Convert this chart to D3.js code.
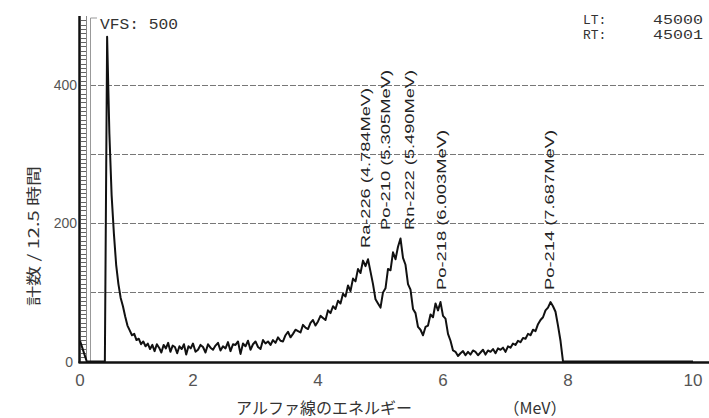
<!DOCTYPE html>
<html>
<head>
<meta charset="utf-8">
<script src="https://cdn.jsdelivr.net/npm/d3@7"></script>
<style>
  html, body { margin: 0; padding: 0; background: #fff; }
  svg { display: block; }
</style>
</head>
<body>
<svg id="chart" width="709" height="418"></svg>
<script>
// Alpha spectrum: counts per channel, channels every 0.04 MeV starting at 0 MeV
const channelStep = 0.04;
const counts = [
  30, 20, 10, 0, 0, 0, 0, 0, 0, 0, 0, 0,           // 0.00 - 0.44
  470, 330, 240, 185, 140, 112, 92, 80, 65, 52,    // 0.48 - 0.84
  45, 38, 40, 31, 33, 25, 29, 22, 26, 18, 24,      // 0.88 - 1.28
  15, 25, 20, 13, 24, 19, 27, 14, 23, 21, 12, 22,  // 1.32 - 1.76
  18, 25, 10, 22, 19, 26, 14, 17, 24, 21, 13, 25,  // 1.80 - 2.24
  20, 17, 23, 27, 16, 22, 19, 28, 15, 25, 24, 29,  // 2.28 - 2.72
  11, 26, 22, 30, 17, 25, 29, 21, 18, 31, 26, 29,  // 2.76 - 3.20
  24, 31, 27, 35, 30, 29, 38, 43, 35, 40, 46, 44,  // 3.24 - 3.68
  42, 53, 49, 47, 56, 60, 52, 58, 66, 63, 60, 74,  // 3.72 - 4.16
  70, 80, 76, 88, 84, 98, 94, 110, 102, 120, 116, 134, // 4.20 - 4.64
  128, 146, 138, 148, 130, 112, 90, 84, 78, 100, 106, 134, // 4.68 - 5.12
  132, 158, 148, 166, 178, 150, 140, 112, 104, 76, 70, 50, // 5.16 - 5.60
  46, 38, 50, 52, 68, 64, 84, 74, 86, 66, 62, 40,  // 5.64 - 6.08
  30, 16, 14, 8, 12, 15, 9, 14, 10, 16, 14, 9,     // 6.12 - 6.56
  13, 17, 10, 16, 14, 18, 12, 19, 17, 20, 14, 22,  // 6.60 - 7.04
  20, 26, 24, 30, 28, 34, 33, 40, 38, 46, 44, 54,  // 7.08 - 7.52
  60, 64, 74, 78, 86, 80, 72, 52, 30, 0,           // 7.56 - 7.92
  0, 0, 0, 0, 0, 0, 0, 0, 0, 0, 0, 0, 0, 0, 0, 0, 0, 0, 0, 0, 0, 0, 0, 0, 0, 0,
  0, 0, 0, 0, 0, 0, 0, 0, 0, 0, 0, 0, 0, 0, 0, 0, 0, 0, 0, 0, 0, 0, 0, 0, 0, 0
];

// Peak identification labels
const peakNuclides = ["Ra-226", "Po-210", "Rn-222", "Po-218", "Po-214"];
const peakEnergies = [4.784, 5.305, 5.490, 6.003, 7.687];

// Axis ticks
const xTicks = [0, 2, 4, 6, 8, 10];
const yTicks = [0, 200, 400];
const gridValues = [100, 200, 300, 400];

// Header readouts
const vfsValue = 500;
const liveTime = 45000;
const realTime = 45001;

const svg = d3.select("#chart");
const axisX = 80, baseY = 362;

// Energy calibration of the display is slightly compressed below 2 MeV
const x = d3.scaleLinear().domain([0, 2, 10]).range([axisX, 193, 693]);
const y = d3.scaleLinear().domain([0, 500]).range([baseY - 0.5, 16]);

const grey = "#555";
const tickFont = "'Liberation Sans', Arial, sans-serif";
const monoFont = "'Liberation Mono', 'DejaVu Sans Mono', monospace";

// Dashed horizontal grid
svg.append("g").selectAll("line").data(gridValues).join("line")
  .attr("x1", 90).attr("x2", 705)
  .attr("y1", d => Math.round(y(d)) + 0.5).attr("y2", d => Math.round(y(d)) + 0.5)
  .attr("stroke", "#777").attr("stroke-width", 1)
  .attr("stroke-dasharray", "6,2");

// Ladder scale along the vertical axis
const rungs = d3.range(0, 500, 6.25);
const ladder = svg.append("g");
ladder.selectAll("line").data(rungs).join("line")
  .attr("x1", axisX + 1).attr("x2", axisX + 6)
  .attr("y1", d => Math.round(y(d)) + 0.5).attr("y2", d => Math.round(y(d)) + 0.5)
  .attr("stroke", "#666").attr("stroke-width", 1);
ladder.append("line")
  .attr("x1", axisX + 6.5).attr("x2", axisX + 6.5)
  .attr("y1", y(500)).attr("y2", baseY)
  .attr("stroke", "#888").attr("stroke-width", 1);
ladder.append("path")
  .attr("d", `M${axisX + 10.5},${baseY} V${y(500) + 2} H${axisX + 17}`)
  .attr("fill", "none").attr("stroke", "#999").attr("stroke-width", 1);
ladder.append("line")
  .attr("x1", axisX - 0.5).attr("x2", axisX - 0.5)
  .attr("y1", y(500)).attr("y2", baseY + 1)
  .attr("stroke", "#111").attr("stroke-width", 2.5);

// Horizontal axis line
svg.append("line")
  .attr("x1", axisX - 1.5).attr("x2", 709)
  .attr("y1", baseY + 0.5).attr("y2", baseY + 0.5)
  .attr("stroke", "#111").attr("stroke-width", 2.5);

// Tick labels
svg.append("g").selectAll("text").data(xTicks).join("text")
  .attr("x", d => x(d)).attr("y", baseY + 24)
  .attr("text-anchor", "middle")
  .attr("font-family", tickFont).attr("font-size", 17)
  .attr("fill", grey)
  .text(d => d);

svg.append("g").selectAll("text").data(yTicks).join("text")
  .attr("x", d => d === 0 ? axisX - 7 : axisX - 3)
  .attr("y", d => y(d) + 5)
  .attr("text-anchor", "end")
  .attr("font-family", tickFont).attr("font-size", 14)
  .attr("fill", grey)
  .text(d => d);

// Spectrum trace
const spectrum = counts.map((c, i) => [i * channelStep, c]);
svg.append("path")
  .datum(spectrum)
  .attr("fill", "none")
  .attr("stroke", "#111")
  .attr("stroke-width", 2)
  .attr("stroke-linejoin", "round")
  .attr("d", d3.line().x(d => x(d[0])).y(d => y(d[1])));

// Peak labels, rotated to read bottom-to-top
const labelShift = [0, -13, 0, 0, 3];
const labelBottom = [248, 230, 230, 290, 290];
svg.append("g").selectAll("text").data(peakNuclides).join("text")
  .attr("transform", (d, i) => `translate(${x(peakEnergies[i]) + labelShift[i] + 3},${labelBottom[i]}) rotate(-90)`)
  .attr("font-family", tickFont).attr("font-size", 13)
  .attr("fill", "#222")
  .attr("textLength", 160).attr("lengthAdjust", "spacingAndGlyphs")
  .text((d, i) => `${d} (${peakEnergies[i].toFixed(3)}MeV)`);

// Header readouts
svg.append("text")
  .attr("x", 100).attr("y", 29)
  .attr("font-family", monoFont).attr("font-size", 15)
  .attr("fill", "#333")
  .attr("textLength", 78).attr("lengthAdjust", "spacingAndGlyphs")
  .text(`VFS: ${vfsValue}`);

const readouts = [["LT:", liveTime], ["RT:", realTime]];
const hdr = svg.append("g").selectAll("g").data(readouts).join("g");
hdr.append("text")
  .attr("x", 583).attr("y", (d, i) => 24 + i * 15)
  .attr("font-family", monoFont).attr("font-size", 13)
  .attr("fill", "#333")
  .text(d => d[0]);
hdr.append("text")
  .attr("x", 703).attr("y", (d, i) => 24 + i * 15)
  .attr("text-anchor", "end")
  .attr("font-family", monoFont).attr("font-size", 13)
  .attr("fill", "#333")
  .attr("textLength", 50).attr("lengthAdjust", "spacingAndGlyphs")
  .text(d => d[1]);

// Axis titles
svg.append("text")
  .attr("transform", "translate(39,236) rotate(-90)")
  .attr("text-anchor", "middle")
  .attr("font-family", "'Noto Sans CJK JP', sans-serif").attr("font-size", 15)
  .attr("fill", "#333")
  .attr("textLength", 140).attr("lengthAdjust", "spacingAndGlyphs")
  .text("計数 / 12.5 時間");

svg.append("text")
  .attr("x", 324).attr("y", 414)
  .attr("text-anchor", "middle")
  .attr("font-family", "'Noto Sans CJK JP', sans-serif").attr("font-size", 16)
  .attr("fill", "#333")
  .text("アルファ線のエネルギー");

svg.append("text")
  .attr("x", 535).attr("y", 414)
  .attr("text-anchor", "middle")
  .attr("font-family", "'Noto Sans CJK JP', sans-serif").attr("font-size", 16)
  .attr("fill", "#333")
  .text("（MeV）");
</script>
</body>
</html>
